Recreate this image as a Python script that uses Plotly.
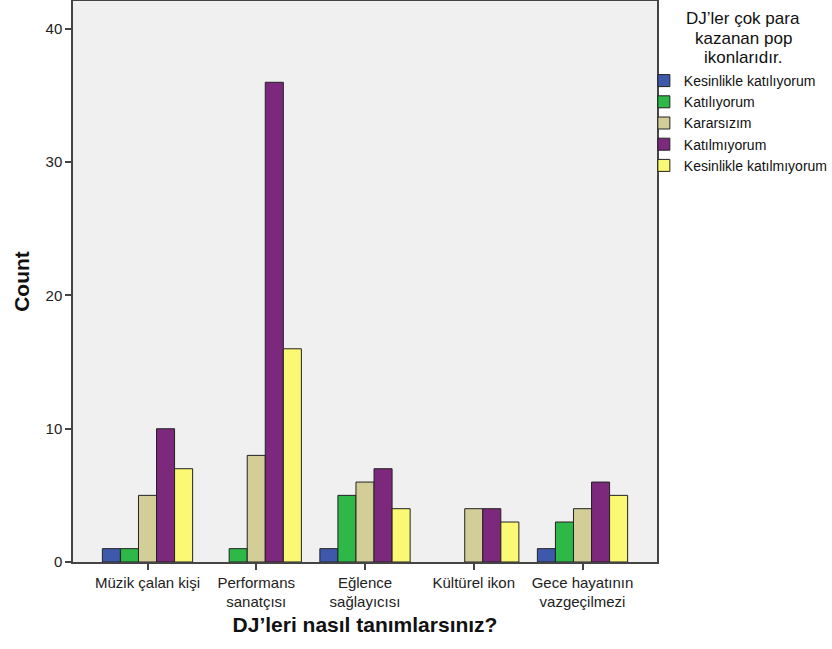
import plotly.graph_objects as go

categories = ["Müzik çalan kişi", "Performans<br>sanatçısı", "Eğlence<br>sağlayıcısı",
              "Kültürel ikon", "Gece hayatının<br>vazgeçilmezi"]
series_names = ["Kesinlikle katılıyorum", "Katılıyorum", "Kararsızım",
                "Katılmıyorum", "Kesinlikle katılmıyorum"]
kesinlikle_katiliyorum = [1, 0, 1, 0, 1]
katiliyorum = [1, 1, 5, 0, 3]
kararsizim = [5, 8, 6, 4, 4]
katilmiyorum = [10, 36, 7, 4, 6]
kesinlikle_katilmiyorum = [7, 16, 4, 3, 5]
y_ticks = [0, 10, 20, 30, 40]
legend_title_lines = ["DJ’ler çok para", "kazanan pop", "ikonlarıdır."]

series_values = [kesinlikle_katiliyorum, katiliyorum, kararsizim,
                 katilmiyorum, kesinlikle_katilmiyorum]
colors = ["#3E58AC", "#2EB848", "#D3CE97", "#7C287D", "#FBF873"]

FONT = "Liberation Sans, Arial, sans-serif"
W, H = 832, 649
ML, MR, MT, MB = 73, 175, 1, 87
PH = H - MT - MB


def py(pix):
    """pixel row -> paper y"""
    return (H - MB - pix) / PH


fig = go.Figure()
for name, vals, col in zip(series_names, series_values, colors):
    fig.add_trace(go.Bar(
        x=list(range(len(categories))),
        y=[v if v else None for v in vals],   # SPSS draws nothing for empty cells
        name=name,
        marker=dict(color=col, line=dict(color="#222222", width=1)),
    ))

fig.update_layout(
    width=W, height=H,
    margin=dict(l=ML, r=MR, t=MT, b=MB, autoexpand=False),
    paper_bgcolor="white",
    plot_bgcolor="#F0F0F0",
    barmode="group",
    bargap=0.17,
    bargroupgap=0,
    font=dict(family=FONT, size=15, color="#222222"),
    showlegend=True,
    legend=dict(
        x=0.9775, xanchor="left", y=py(65), yanchor="top",
        bgcolor="rgba(0,0,0,0)",
        font=dict(family=FONT, size=14, color="#111111"),
        tracegroupgap=0,
        itemclick=False,
    ),
)

for i, line in enumerate(legend_title_lines):
    fig.add_annotation(
        text=line, xref="paper", yref="paper",
        x=(743 - ML) / (W - ML - MR), y=py(18.5 + 19.7 * i),
        xanchor="center", yanchor="middle", showarrow=False,
        font=dict(family=FONT, size=17, color="#111111"),
    )

fig.update_xaxes(
    tickmode="array",
    tickvals=list(range(len(categories))),
    ticktext=categories,
    range=[-0.685, 4.685],
    automargin=False,
    showline=True, linecolor="#444444", linewidth=1.5, mirror=True,
    ticks="outside", ticklen=6, tickcolor="#444444", tickwidth=1.5,
    showgrid=False, zeroline=False,
    tickfont=dict(family=FONT, size=15, color="#222222"),
    title=dict(text="DJ’leri nasıl tanımlarsınız?",
               font=dict(family=FONT, size=21, color="#111111", weight="bold"),
               standoff=8),
)
fig.update_yaxes(
    range=[0, 42.1],
    tickmode="array", tickvals=y_ticks,
    automargin=False,
    showline=True, linecolor="#444444", linewidth=1.5, mirror=True,
    ticks="outside", ticklen=6, tickcolor="#444444", tickwidth=1.5,
    showgrid=False, zeroline=False,
    tickfont=dict(family=FONT, size=15, color="#222222"),
    title=dict(text="Count",
               font=dict(family=FONT, size=21, color="#111111", weight="bold"),
               standoff=10),
)

fig.write_html("out.html",
               config={"displayModeBar": False},
               post_script="document.body.style.margin='0';document.body.style.overflow='hidden';")
